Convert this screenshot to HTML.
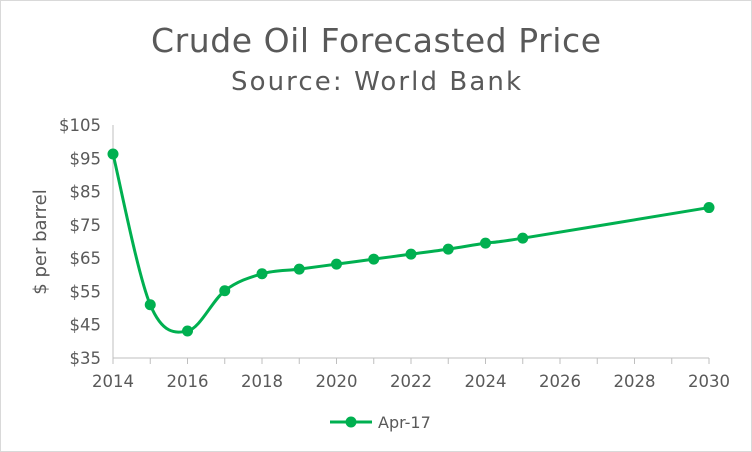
<!DOCTYPE html>
<html><head><meta charset="utf-8"><style>
body{margin:0;background:#fff}
svg{display:block;font-family:"DejaVu Sans","Liberation Sans",sans-serif}
</style></head><body>
<svg width="752" height="452">
<rect x="0.5" y="0.5" width="751" height="451" fill="#fff" stroke="#d9d9d9"/>
<text x="376" y="52" text-anchor="middle" font-size="33" fill="#595959" textLength="450">Crude Oil Forecasted Price</text>
<text x="376" y="90" text-anchor="middle" font-size="26" fill="#595959" textLength="290">Source: World Bank</text>
<text transform="translate(46,242) rotate(-90)" text-anchor="middle" font-size="18" fill="#595959">$ per barrel</text>
<g id="axes"></g>
<g id="series"></g>
<g>
<line x1="330" y1="422" x2="372" y2="422" stroke="#00b050" stroke-width="3"/>
<circle cx="351" cy="422" r="5.5" fill="#00b050"/>
<text x="378" y="428" font-size="16" fill="#595959">Apr-17</text>
</g>
</svg>
<script>
const years=[2014,2015,2016,2017,2018,2019,2020,2021,2022,2023,2024,2025,2030];
const prices=[96.3,51,43.1,55.2,60.3,61.7,63.2,64.7,66.2,67.7,69.5,71,80.2];
const yTicks=[35,45,55,65,75,85,95,105];
const xLabels=[2014,2016,2018,2020,2022,2024,2026,2028,2030];
const NS="http://www.w3.org/2000/svg";
const X=v=>113+(v-2014)*(709-113)/16;
const Y=v=>358-(v-35)*(358-125)/70;
function mk(t,a,p){const e=document.createElementNS(NS,t);for(const k in a)e.setAttribute(k,a[k]);p.appendChild(e);return e;}
const ax=document.getElementById('axes');
let l=mk('line',{x1:113,y1:125,x2:113,y2:358,stroke:'#bfbfbf'},ax);


l=mk('line',{x1:113,y1:358,x2:709,y2:358,stroke:'#bfbfbf'},ax);


yTicks.forEach(v=>{const t=mk('text',{x:101,y:Y(v)+6,'text-anchor':'end','font-size':16.5,fill:'#595959'},ax);t.textContent='$'+v;

});
for(let yr=2014;yr<=2030;yr++){const t=mk('line',{x1:X(yr),y1:358,x2:X(yr),y2:364,stroke:'#bfbfbf'},ax);

}
xLabels.forEach(v=>{const t=mk('text',{x:X(v),y:387,'text-anchor':'middle','font-size':16.5,fill:'#595959'},ax);t.textContent=v;

});
const s=document.getElementById('series');
const pts=years.map((y,i)=>[X(y),Y(prices[i])]);
let d='M'+pts[0][0]+','+pts[0][1];
for(let i=0;i<pts.length-1;i++){const p0=pts[Math.max(0,i-1)],p1=pts[i],p2=pts[i+1],p3=pts[Math.min(pts.length-1,i+2)];const k=6;
d+=' C'+(p1[0]+(p2[0]-p0[0])/k)+','+(p1[1]+(p2[1]-p0[1])/k)+' '+(p2[0]-(p3[0]-p1[0])/k)+','+(p2[1]-(p3[1]-p1[1])/k)+' '+p2[0]+','+p2[1];}
const path=mk('path',{d:d,fill:'none',stroke:'#00b050','stroke-width':3},s);


pts.forEach(p=>{const c=mk('circle',{cx:p[0],cy:p[1],r:5.5,fill:'#00b050'},s);

});
</script>
</body></html>
